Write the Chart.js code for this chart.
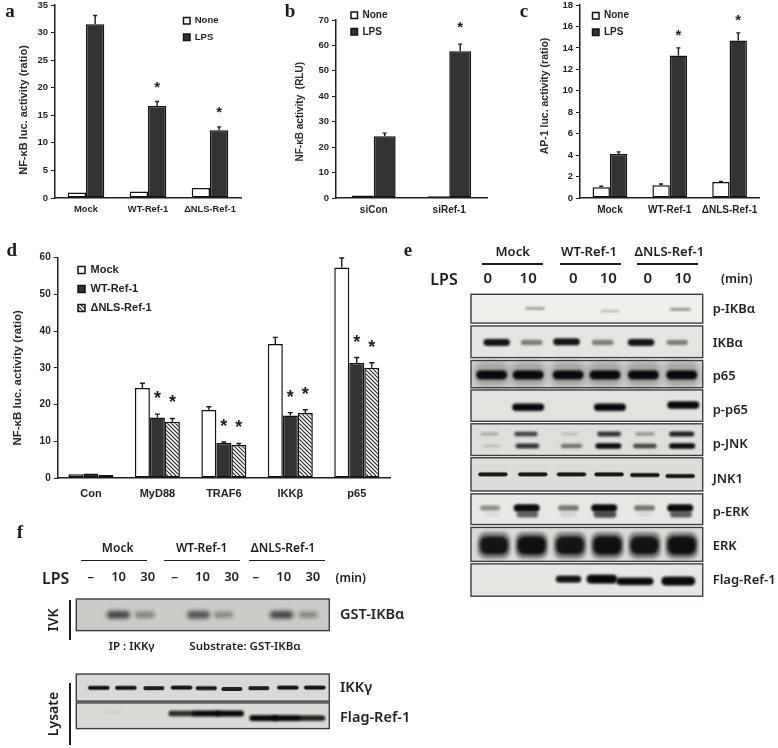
<!DOCTYPE html>
<html><head><meta charset="utf-8">
<style>
html,body{margin:0;padding:0;background:#fff}
#fig{position:relative;width:778px;height:748px;overflow:hidden;filter:blur(.35px)}
canvas{position:absolute}
.t{position:absolute;white-space:nowrap;color:#1c1c1c;line-height:1;transform:translate(-50%,-50%)}
.l{position:absolute;background:#1c1c1c}
</style>
<script src="https://cdn.jsdelivr.net/npm/chart.js@4"></script>
</head><body><div id="fig"></div>
<script>
// ---------- panel a ----------
const aCategories=['Mock','WT-Ref-1','ΔNLS-Ref-1'];
const aNone=[1.0,1.2,1.8];
const aLPS=[31.5,16.7,12.3];
const aLPSErr=[1.6,0.8,0.6];
const aStars=[0,1,1];
// ---------- panel b ----------
const bCategories=['siCon','siRef-1'];
const bNone=[1.0,0.7];
const bLPS=[24.3,57.7];
const bLPSErr=[1.2,2.8];
const bStars=[0,1];
// ---------- panel c ----------
const cCategories=['Mock','WT-Ref-1','ΔNLS-Ref-1'];
const cNone=[1.0,1.2,1.5];
const cNoneErr=[0.1,0.1,0.05];
const cLPS=[4.1,13.3,14.7];
const cLPSErr=[0.2,0.7,0.7];
const cStars=[0,1,1];
// ---------- panel d ----------
const dCategories=['Con','MyD88','TRAF6','IKKβ','p65'];
const dMock=[1.0,24.5,18.5,36.5,57.3];
const dMockErr=[0,1.3,0.9,1.8,2.6];
const dWT=[1.2,16.5,9.5,17.0,31.3];
const dWTErr=[0,0.9,0.3,0.8,1.5];
const dNLS=[0.8,15.3,9.0,17.7,30.0];
const dNLSErr=[0,0.9,0.4,0.9,1.4];
const dStars=[0,1,1,1,1];
// ---------- blot e: bands are [lane, position in strip 0-1, darkness 0-1] ----------
const eLaneLabels=['0','10','0','10','0','10'];
const eLaneLabelAt=[-0.1,0.96,2.15,3.07,4.11,5.03];
const eStripLabels=['p-IKBα','IKBα','p65','p-p65','p-JNK','JNK1','p-ERK','ERK','Flag-Ref-1'];
const bandsPIKBa=[[1.14,.49,.38],[3.11,.58,.3],[4.96,.52,.45]];
const bandsIKBa=[[.13,.52,.95],[1.05,.52,.5],[1.97,.5,.97],[2.92,.52,.5],[3.93,.52,.95],[4.88,.52,.48]];
const bandsP65=[[0,.53,1],[.96,.53,1],[2.01,.53,1],[2.98,.53,1],[3.99,.53,1],[5,.53,1]];
const bandsPP65=[[.96,.55,1],[3.11,.55,1],[5.04,.48,1]];
const bandsPJNK=[[-.06,.32,.25],[.9,.32,.75],[2.06,.32,.15],[3.09,.32,.8],[4.03,.32,.35],[5,.32,.9],
  [0,.7,.15],[.94,.7,.8],[2.1,.7,.55],[3.07,.7,1],[4.03,.7,.75],[5.01,.7,1]];
const bandsJNK1=[[.03,.5,.95],[1.08,.5,.95],[2.1,.5,.95],[3.09,.5,.95],[4.03,.52,.95],[4.96,.55,.95]];
const bandsPERK=[[-.04,.46,.4],[.92,.46,1],[2.02,.46,.5],[2.96,.46,1],[4.02,.46,.5],[4.96,.46,1],
  [0,.67,.07],[.94,.67,.6],[2.02,.67,.1],[2.98,.67,.7],[4.02,.67,.08],[4.98,.67,.62]];
const bandsERK=[[.06,.53,.92],[1.05,.53,.95],[2.06,.53,.92],[3.04,.53,.95],[4.02,.53,.92],[5,.53,.95]];
const bandsEFlag=[[2.02,.47,.95],[2.9,.47,1],[3.77,.54,1],[4.91,.53,1]];
// ---------- blot f ----------
const fLaneLabels=['–','10','30','–','10','30','–','10','30'];
const fLaneLabelAt=[-.3,.74,1.82,2.83,3.86,4.94,5.84,6.88,7.96];
const fStripLabels=['GST-IKBα','IKKγ','Flag-Ref-1'];
const bandsGST=[[.73,.5,.72],[1.72,.5,.42],[3.71,.5,.66],[4.64,.5,.38],[6.8,.5,.72],[7.79,.5,.38]];
const bandsIKKg=[[0,.51,.95],[1.01,.51,.95],[2.05,.52,.9],[3.08,.5,.95],[4.0,.52,.92],[4.95,.55,.9],[5.95,.52,.9],[7.03,.5,.95],[8.03,.5,.95]];
const bandsFFlag=[[.55,.37,.05],[3.08,.41,.85],[3.99,.41,1],[4.88,.41,1],[6.12,.59,1],[6.99,.59,1],[7.92,.59,.9]];

// ---------- layout & styles ----------
const fig=document.getElementById('fig');
const SANS='"Liberation Sans"', LAB='"Noto Sans"';
const INK='#1f1f1f', DARK='#333333';
function hatch(){
  const c=document.createElement('canvas');c.width=c.height=4;
  const x=c.getContext('2d');x.fillStyle='#fff';x.fillRect(0,0,4,4);
  x.strokeStyle='#222';x.lineWidth=1.1;
  x.beginPath();x.moveTo(-1,-1);x.lineTo(5,5);x.moveTo(3,-1);x.lineTo(5,1);x.moveTo(-1,3);x.lineTo(1,5);x.stroke();
  return x.createPattern(c,'repeat');
}
function mk(b){const c=document.createElement('canvas');c.width=b.w;c.height=b.h;
  c.style.left=b.x+'px';c.style.top=b.y+'px';c.style.width=b.w+'px';c.style.height=b.h+'px';fig.appendChild(c);return c.getContext('2d');}
function txt(s,x,y,font,extra){const d=document.createElement('div');d.className='t';d.textContent=s;d.style.left=x+'px';d.style.top=y+'px';d.style.font=font;
  d.style.lineHeight='1';if(extra)Object.assign(d.style,extra);fig.appendChild(d);}
function line(x1,y1,x2,y2,w){const d=document.createElement('div');d.className='l';
  if(y1===y2){d.style.cssText+=`left:${x1}px;top:${y1-w/2}px;width:${x2-x1}px;height:${w}px`;}
  else{d.style.cssText+=`left:${x1-w/2}px;top:${y1}px;width:${w}px;height:${y2-y1}px`;}fig.appendChild(d);}

function barPanel(o){
  const sets=o.series.map(s=>({label:s.label,data:s.data,backgroundColor:s.fill,borderColor:'#111',borderWidth:1.5,borderSkipped:false,
    categoryPercentage:o.catPct,barPercentage:1}));
  const errPlugin={id:'errs',afterDatasetsDraw(ch){
    const c=ch.ctx,y=ch.scales.y;c.save();c.strokeStyle='#1a1a1a';c.lineWidth=1.4;
    o.series.forEach((s,i)=>{if(!s.err)return;const m=ch.getDatasetMeta(i);
      s.err.forEach((e,j)=>{if(!e)return;const px=m.data[j].x,top=y.getPixelForValue(s.data[j]+e),base=y.getPixelForValue(s.data[j]);
        c.beginPath();c.moveTo(px,base);c.lineTo(px,top);c.moveTo(px-o.cap,top);c.lineTo(px+o.cap,top);c.stroke();});
      if(s.stars){c.fillStyle='#222';c.font=`bold ${o.starSize}px ${SANS}`;c.textAlign='center';c.textBaseline='middle';
        s.stars.forEach((f,j)=>{if(!f)return;c.fillText('*',m.data[j].x,y.getPixelForValue(s.data[j]+s.err[j])-o.starUp);});}
    });c.restore();}};
  const movePlugin={id:'moveLegend',afterLayout(ch){const l=ch.legend;const p=o.legend.padding,fs=o.legend.font;
    l.left=o.legend.x-o.box.x-p;l.top=o.legend.y-o.box.y-p-fs/2;l.right=l.left+200;l.bottom=l.top+100;l.width=200;l.height=100;}};
  new Chart(mk(o.box),{type:'bar',data:{labels:o.labels,datasets:sets},plugins:[errPlugin,movePlugin],options:{
    responsive:false,animation:false,
    layout:{autoPadding:false,padding:{left:o.area.l-o.box.x-40,top:o.area.t-o.box.y,right:o.box.x+o.box.w-o.area.r,bottom:o.box.y+o.box.h-o.area.b-26}},
    plugins:{tooltip:{enabled:false},legend:{position:'chartArea',align:'start',labels:{boxWidth:o.legend.box,boxHeight:o.legend.box,
      padding:o.legend.padding,color:INK,font:{family:SANS,weight:'bold',size:o.legend.font}}}},
    scales:{
      x:{grid:{display:false,drawTicks:false},border:{color:INK,width:1.5},ticks:{color:INK,padding:o.xPad,maxRotation:0,autoSkip:false,font:{family:SANS,weight:'bold',size:o.xFont}},
        afterFit(s){s.height=26;}},
      y:{min:0,max:o.max,grid:{drawOnChartArea:false,tickLength:4,color:INK,lineWidth:1},border:{color:INK,width:1.5},
        ticks:{stepSize:o.step,color:INK,padding:3,font:{family:SANS,weight:'bold',size:o.yFont}},
        title:{display:true,text:o.title,color:'#2a2a2a',padding:0,font:{family:SANS,weight:'bold',size:o.titleFont}},
        afterFit(s){s.width=40;if(s._moved)return;s._moved=true;const dt=s.drawTitle;s.drawTitle=function(){const c=this.ctx;c.save();
          c.translate(o.titleAt[0]-o.box.x-(this.left+o.titleFont*.6),o.titleAt[1]-o.box.y-(this.top+this.bottom)/2);dt.call(this);c.restore();};}}
    }}});
}

function bandImage(w,h,dark,blur){
  const pad=Math.ceil(blur*3)+2,c=document.createElement('canvas');
  c.width=Math.ceil(w)+pad*2;c.height=Math.ceil(h)+pad*2;
  const x=c.getContext('2d');x.filter=`blur(${blur}px)`;x.fillStyle=`rgba(10,10,10,${dark})`;
  x.beginPath();x.roundRect((c.width-w)/2,(c.height-h)/2,w,h,Math.min(h/2,w/4));x.fill();
  return c;
}
function blot(o){
  const H=o.area.b-o.area.t,unit=o.unit;
  const pts=[],imgs=[];
  o.groups.forEach(g=>{const st=o.strips[g.strip],lk=g.look;
    g.bands.forEach(b=>{pts.push({x:b[0],y:st.top-o.area.t+b[1]*(st.bottom-st.top)});
      imgs.push(bandImage(lk.w*(lk.fixed?1:.6+.4*b[2]),lk.h*(lk.fixed?1:.45+.55*b[2]),b[2],lk.blur));});});
  const framePlugin={id:'frames',
    beforeDatasetsDraw(ch){const c=ch.ctx,a=ch.chartArea,y=ch.scales.y;
      o.strips.forEach(s=>{c.fillStyle=s.bg;c.fillRect(a.left,y.getPixelForValue(s.top-o.area.t),a.right-a.left,y.getPixelForValue(s.bottom-o.area.t)-y.getPixelForValue(s.top-o.area.t));});},
    afterDatasetsDraw(ch){const c=ch.ctx,a=ch.chartArea,y=ch.scales.y;c.save();c.strokeStyle='#3c3c3c';c.lineWidth=1.4;
      o.strips.forEach(s=>{c.strokeRect(a.left,y.getPixelForValue(s.top-o.area.t),a.right-a.left,y.getPixelForValue(s.bottom-o.area.t)-y.getPixelForValue(s.top-o.area.t));});c.restore();}};
  new Chart(mk(o.box),{type:'scatter',data:{datasets:[{data:pts,pointStyle:imgs,pointRadius:2,showLine:false,clip:0}]},plugins:[framePlugin],options:{
    responsive:false,animation:false,
    layout:{autoPadding:false,padding:{left:o.area.l-o.box.x,top:o.area.t-o.box.y-o.topH,right:o.box.x+o.box.w-o.area.r-o.rightW,bottom:o.box.y+o.box.h-o.area.b}},
    plugins:{legend:{display:false},tooltip:{enabled:false}},
    scales:{
      x:{type:'linear',position:'top',min:(o.area.l-o.lane0)/unit,max:(o.area.r-o.lane0)/unit,grid:{display:false,drawTicks:false},border:{display:false},
        ticks:{color:INK,padding:o.topPad,maxRotation:0,autoSkip:false,font:{family:LAB,weight:'600',size:o.laneFont},callback:(v,i)=>o.laneLabels[i]},
        afterBuildTicks(s){s.ticks=o.laneLabelAt.map(v=>({value:v}));},afterFit(s){s.height=o.topH;}},
      y:{type:'linear',position:'right',reverse:true,min:0,max:H,grid:{display:false,drawTicks:false},border:{display:false},
        ticks:{color:INK,padding:o.rightPad,autoSkip:false,font:{family:LAB,weight:'600',size:o.stripFont},callback:(v,i)=>o.stripLabels[i]},
        afterBuildTicks(s){s.ticks=o.stripLabelAt.map(v=>({value:v-o.area.t}));},afterFit(s){s.width=o.rightW;}}
    }}});
}

const hatchFill=hatch();
barPanel({box:{x:0,y:-12,w:258,h:240},area:{l:55,t:5,r:241,b:198},labels:aCategories,catPct:.59,max:35,step:5,
  series:[{label:'None',data:aNone,fill:'#fff'},{label:'LPS',data:aLPS,err:aLPSErr,stars:aStars,fill:DARK}],
  title:'NF-κB luc. activity (ratio)',titleAt:[24,110],titleFont:11,xFont:9.3,yFont:9.5,xPad:6,cap:2,starSize:15,starUp:14,
  legend:{x:183.5,y:20.7,box:6.5,font:9.5,padding:7}});
barPanel({box:{x:262,y:0,w:258,h:228},area:{l:336,t:20,r:487,b:198},labels:bCategories,catPct:.58,max:70,step:10,
  series:[{label:'None',data:bNone,fill:'#fff'},{label:'LPS',data:bLPS,err:bLPSErr,stars:bStars,fill:DARK}],
  title:'NF-κB activity  (RLU)',titleAt:[300,111.7],titleFont:10,xFont:10,yFont:9.5,xPad:6,cap:2,starSize:15,starUp:16,
  legend:{x:351,y:15.3,box:6.5,font:10,padding:6.5}});
barPanel({box:{x:520,y:-12,w:258,h:240},area:{l:580,t:5,r:759.5,b:198},labels:cCategories,catPct:.58,max:18,step:2,
  series:[{label:'None',data:cNone,err:cNoneErr,fill:'#fff'},{label:'LPS',data:cLPS,err:cLPSErr,stars:cStars,fill:DARK}],
  title:'AP-1 luc. activity (ratio)',titleAt:[545,96],titleFont:10.5,xFont:10,yFont:9.5,xPad:6,cap:2,starSize:15,starUp:12,
  legend:{x:592.5,y:15.7,box:6.5,font:10,padding:6.5}});
barPanel({box:{x:0,y:240,w:410,h:270},area:{l:57.7,t:257.7,r:390,b:478},labels:dCategories,catPct:.677,max:60,step:10,
  series:[{label:'Mock',data:dMock,err:dMockErr,fill:'#fff'},{label:'WT-Ref-1',data:dWT,err:dWTErr,stars:dStars,fill:DARK},{label:'ΔNLS-Ref-1',data:dNLS,err:dNLSErr,stars:dStars,fill:hatchFill}],
  title:'NF-κB luc. activity (ratio)',titleAt:[18.3,377.8],titleFont:11.5,xFont:11,yFont:10,xPad:9,cap:2.5,starSize:18,starUp:15,
  legend:{x:78,y:270,box:7,font:11,padding:8}});

const eStrips=[[294.3,324.3,'#eeeeea'],[327.3,360.3,'#e4e4e0'],[363.3,391.7,'#d4d4d0'],[394,426.7,'#e2e2de'],[429.3,462.3,'#dededa'],[464.7,499.3,'#deded9'],[502.3,534.3,'#e7e7e3'],[537.3,572.7,'#d9d9d5'],[575.3,609,'#e6e6e2']]
  .map(a=>({top:a[0],bottom:a[1],bg:a[2]}));
const halo={w:35,h:25,blur:3,fixed:true};
blot({box:{x:430,y:258,w:348,h:356},area:{l:471,t:294.3,r:702.7,b:609},unit:38,lane0:491.7,topH:30,topPad:7,rightW:75,rightPad:10,laneFont:15,stripFont:13,
  laneLabels:eLaneLabels,laneLabelAt:eLaneLabelAt,stripLabels:eStripLabels,stripLabelAt:[310,345,380,415.7,451,486.7,521.7,557,592.7],strips:eStrips,
  groups:[
   {strip:0,bands:bandsPIKBa,look:{w:26,h:3.5,blur:.9}},
   {strip:1,bands:bandsIKBa,look:{w:27,h:7,blur:1.1}},
   {strip:2,bands:bandsP65.map(b=>[b[0],.5,.25]),look:halo},
   {strip:2,bands:bandsP65,look:{w:31,h:9,blur:.9}},
   {strip:3,bands:bandsPP65,look:{w:32,h:7.5,blur:.9}},
   {strip:4,bands:bandsPJNK,look:{w:26,h:5.5,blur:.9}},
   {strip:5,bands:bandsJNK1,look:{w:30,h:4.2,blur:.7}},
   {strip:6,bands:bandsPERK,look:{w:26,h:7.5,blur:1.1}},
   {strip:7,bands:bandsERK.map(b=>[b[0],.53,.4]),look:{w:33,h:27,blur:1.6,fixed:true}},
   {strip:7,bands:bandsERK,look:{w:29,h:19,blur:1.4}},
   {strip:8,bands:bandsEFlag.slice(0,1),look:{w:26,h:7,blur:1}},
   {strip:8,bands:bandsEFlag.slice(1,2),look:{w:31,h:9,blur:1}},
   {strip:8,bands:bandsEFlag.slice(2,3),look:{w:37,h:7.5,blur:1}},
   {strip:8,bands:bandsEFlag.slice(3,4),look:{w:34,h:9,blur:1}}
  ]});

const fStrips=[[599,634.7,'#cbcbc7'],[683.7,714.3,'#d9d9d5'],[716.3,745.3,'#d9d9d5']].map(a=>({top:a[0],bottom:a[1],bg:a[2]}));
blot({box:{x:70,y:565,w:360,h:183},area:{l:76.3,t:599,r:329.3,b:745.3},unit:26.9,lane0:98.7,topH:30,topPad:14,rightW:90,rightPad:10.7,laneFont:13,stripFont:14.5,
  laneLabels:fLaneLabels,laneLabelAt:fLaneLabelAt,stripLabels:fStripLabels,stripLabelAt:[617.3,699,733.3],strips:fStrips,
  groups:[
   {strip:0,bands:bandsGST,look:{w:26,h:9,blur:2}},
   {strip:1,bands:bandsIKKg,look:{w:22,h:4.2,blur:.7}},
   {strip:2,bands:bandsFFlag,look:{w:28,h:6,blur:.9}}
  ]});

// panel letters
[['a',10,10],['b',290,10],['c',524,10],['d',11.7,249],['e',408,249],['f',20,531]].forEach(p=>txt(p[0],p[1],p[2],'bold 19px "Liberation Serif"'));
// e headers
const H1='600 13px '+LAB;
[['Mock',512.7],['WT-Ref-1',589],['ΔNLS-Ref-1',669.3]].forEach(p=>txt(p[0],p[1],250.7,H1));
[[481.7,542.7],[560,621],[636.7,697.7]].forEach(p=>line(p[0],263.7,p[1],263.7,1.8));
txt('LPS',444,279,'600 16px '+LAB);
txt('(min)',736.7,279,'600 12.5px '+LAB);
// f headers
[['Mock',117.7],['WT-Ref-1',201.7],['ΔNLS-Ref-1',283]].forEach(p=>txt(p[0],p[1],547.7,'600 12px '+LAB));
[[80.7,147.3],[163.7,240],[248.7,325]].forEach(p=>line(p[0],560.7,p[1],560.7,1.5));
txt('LPS',55.7,577.7,'600 16px '+LAB);
txt('(min)',350.7,578,'600 12px '+LAB);
txt('IP : IKKγ',131.7,646.3,'600 11.5px '+LAB);
txt('Substrate: GST-IKBα',245,646.3,'600 11.5px '+LAB);
txt('IVK',53.3,620,'600 14px '+LAB,{transform:'translate(-50%,-50%) rotate(-90deg)'});
txt('Lysate',53.3,714,'600 14px '+LAB,{transform:'translate(-50%,-50%) rotate(-90deg)'});
line(70,600,70,640,1.5);
line(70,683,70,745,1.5);
</script></body></html>
